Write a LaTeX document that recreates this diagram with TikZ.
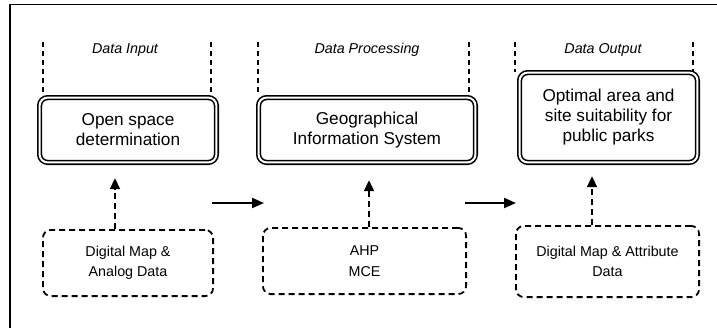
\documentclass[tikz,border=0pt]{standalone}
\usepackage{fontspec}
\setmainfont{Liberation Sans}
\usetikzlibrary{arrows.meta,calc}
\tikzset{
  mainbox/.style={draw, double, line width=1.6pt, double distance=2pt, rounded corners=8pt,
    align=center, inner sep=0pt, font=\fontsize{17.2}{20}\selectfont},
  srcbox/.style={draw, line width=1.8pt, dash pattern=on 6pt off 4pt, rounded corners=8pt,
    align=center, inner sep=0pt, font=\fontsize{14.3}{20.5}\selectfont},
  phase/.style={font=\fontsize{14.3}{17}\selectfont\itshape, anchor=base, inner sep=0pt},
  sep/.style={line width=1.4pt, dash pattern=on 5pt off 4pt},
  flow/.style={line width=2pt, -{Triangle[length=12pt,width=10pt]}},
  feed/.style={line width=2pt, dash pattern=on 6pt off 4pt, -{Triangle[length=11pt,width=10pt]}},
}
\begin{document}
\begin{tikzpicture}[x=1pt,y=-1pt]
\useasboundingbox (0,0) rectangle (717,327);
% frame
\coordinate (fb) at (10,330);
\coordinate (fc) at (10,4.5);
\coordinate (fr) at (720,4.5);
\draw[line width=1.5pt] (fb) -- (fc) -- (fr);
% phase separators
\coordinate (s1a) at (43,42);  \coordinate (s1b) at (43,95);
\coordinate (s2a) at (211,42); \coordinate (s2b) at (211,95);
\coordinate (s3a) at (258,42); \coordinate (s3b) at (258,95);
\coordinate (s4a) at (469,42); \coordinate (s4b) at (469,95);
\coordinate (s5a) at (515,42); \coordinate (s5b) at (515,72);
\coordinate (s6a) at (693,42); \coordinate (s6b) at (693,72);
\draw[sep] (s1a) -- (s1b);
\draw[sep] (s2a) -- (s2b);
\draw[sep] (s3a) -- (s3b);
\draw[sep] (s4a) -- (s4b);
\draw[sep] (s5a) -- (s5b);
\draw[sep] (s6a) -- (s6b);
% phase labels
\node[phase] (l1) at (125,53.5) {Data Input};
\node[phase] (l2) at (367,53.5) {Data Processing};
\node[phase] (l3) at (603,53.5) {Data Output};
% main boxes
\node[mainbox, minimum width=176.8pt, minimum height=64.8pt] (b1) at (128,130) {Open space\\determination};
\node[mainbox, minimum width=216.8pt, minimum height=64.8pt] (b2) at (367,130) {Geographical\\Information System};
\node[mainbox, minimum width=177.8pt, minimum height=89.8pt] (b3) at (608.5,117.5) {Optimal area and\\site suitability for\\public parks};
% source boxes
\node[srcbox, minimum width=170.2pt, minimum height=66.2pt] (a1) at (128,263) {Digital Map \&\\Analog Data};
\node[srcbox, minimum width=203.2pt, minimum height=66.2pt] (a2) at (364.5,261) {AHP\\MCE};
\node[srcbox, minimum width=183.2pt, minimum height=71.2pt] (a3) at (607.5,261.5) {Digital Map \& Attribute\\Data};
% feed arrows
\draw[feed] ([xshift=-13pt]a1.north) -- ([xshift=-13pt,yshift=-15pt]b1.south);
\draw[feed] ([xshift=4.5pt]a2.north) -- ([xshift=2pt,yshift=-17pt]b2.south);
\draw[feed] ([xshift=-15.5pt]a3.north) -- ([xshift=-16.5pt,yshift=-13pt]b3.south);
% flow arrows
\coordinate (h1s) at (212,203); \coordinate (h1e) at (264,203);
\coordinate (h2s) at (465,203); \coordinate (h2e) at (516,203);
\draw[flow] (h1s) -- (h1e);
\draw[flow] (h2s) -- (h2e);
\end{tikzpicture}
\end{document}
